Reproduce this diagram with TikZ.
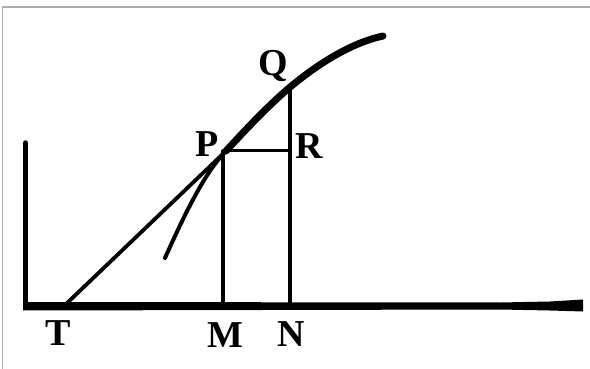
\documentclass[tikz,border=0pt]{standalone}
\usepackage{fontspec}
\setmainfont{Liberation Serif}
\begin{document}
\begin{tikzpicture}[x=1pt,y=-1pt,
  lbl/.style={font=\fontsize{38}{40}\selectfont\bfseries, inner sep=0pt, anchor=base},
  ink/.style={line cap=round, line join=round, black},
  framestyle/.style={draw=black!32, line width=1.2pt}]
\useasboundingbox (0,0) rectangle (590,369);
% frame
\draw[framestyle] (2.5,369) -- (2.5,7) -- (590,7);
% points
\coordinate (O) at (25.5,306);
\coordinate (Top) at (25.5,143);
\coordinate (T) at (64,306);
\coordinate (M) at (223,306);
\coordinate (N) at (290,306);
\coordinate (P) at (226,151);
\coordinate (PM) at (223,151);
\coordinate (R) at (290,151);
\coordinate (Q) at (290,88);
\coordinate (E) at (583,306);
% baseline (slightly thicker near the right end)
\fill (23,302) -- (500,302.5) -- (550,301.5) -- (583,299.5) -- (583,311.5) -- (550,310.5) -- (500,309.5) -- (23,310.5) -- cycle;
% vertical axis
\draw[ink, line width=5.5] (O) -- (Top);
% tangent
\draw[ink, line width=3.8] (T) -- (P);
% ordinates
\draw[ink, line width=3.5] (PM) -- (M);
\draw[ink, line width=4] (Q) -- (N);
\draw[ink, line width=3] (PM) -- (R);
% curve
\draw[ink, line width=4] (165,258) .. controls (183,218) and (204,173) .. (P);
\draw[ink, line width=7] (P) .. controls (248,127) and (268,106) .. (289,88)
  .. controls (315,66) and (350,43) .. (383,36);
% labels
\node[lbl] (lT) at (58,345) {T};
\node[lbl] (lM) at (225,347) {M};
\node[lbl] (lN) at (291.5,346) {N};
\node[lbl] (lP) at (207.5,157) {P};
\node[lbl] (lR) at (309.5,158) {R};
\node[lbl] (lQ) at (273,76) {Q};
\end{tikzpicture}
\end{document}
